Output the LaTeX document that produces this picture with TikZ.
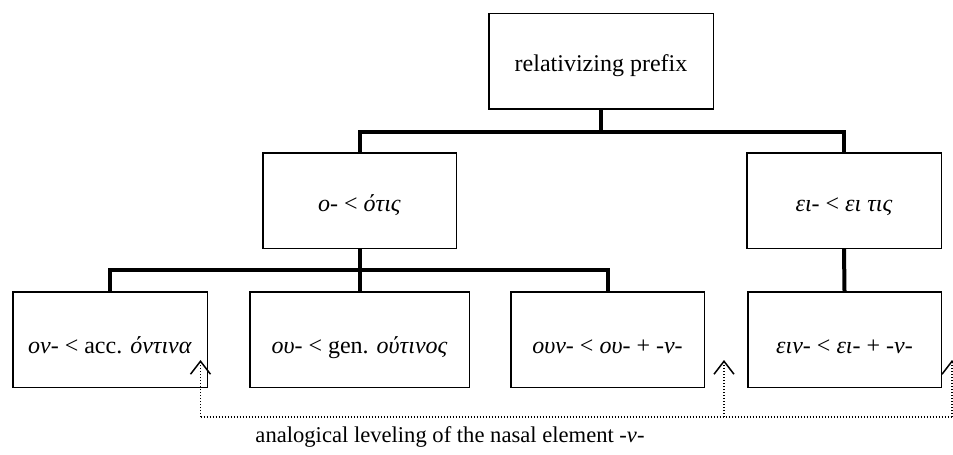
\documentclass[tikz,border=0pt]{standalone}
\usepackage{fontspec}
\setmainfont{Liberation Serif}
\usetikzlibrary{arrows.meta}
\begin{document}
\begin{tikzpicture}[x=0.5pt,y=-0.5pt,
  box/.style={draw,line width=0.75pt,minimum height=47.75pt,inner sep=0pt,text depth=0pt,text height=10.5pt,font=\fontsize{12}{14}\selectfont},
  lowbox/.style={box,text height=13.5pt},
  conn/.style={line width=2pt},
  level/.style={line width=0.6pt,dash pattern=on 0.6pt off 0.9pt},
  tipped/.style={-{Straight Barb[length=6.5pt,width=10pt,line width=0.75pt]}}]
\useasboundingbox (0,0) rectangle (953,455);
% nodes
\node[box,minimum width=112.25pt] (top) at (601,61) {relativizing prefix};
\node[box,minimum width=96.75pt] (o) at (359.5,200.5) {\textit{ο-} < \textit{ότις}};
\node[box,minimum width=97.25pt] (ei) at (844,200.5) {\textit{ει-} < \textit{ει τις}};
\node[lowbox,minimum width=97.25pt] (b1) at (110,339.5) {\textit{ον-} < acc. \textit{όντινα}};
\node[lowbox,minimum width=109.75pt] (b2) at (359.5,339.5) {\textit{ου-} < gen. \textit{ούτινος}};
\node[lowbox,minimum width=96.75pt] (b3) at (607.5,339.5) {\textit{ουν-} < \textit{ου-} + \textit{-ν-}};
\node[lowbox,minimum width=96.75pt] (b4) at (844.5,339.5) {\textit{ειν-} < \textit{ει-} + \textit{-ν-}};
% tree connectors
\coordinate (bar1) at (0,132);
\coordinate (bar2) at (0,270);
\draw[conn] (top.south) -- (top.south |- bar1);
\draw[conn] (o.north) |- (ei.north |- bar1) -- (ei.north);
\draw[conn] (o.south) -- (b2.north);
\draw[conn] (b1.north) |- (b3.north |- bar2) -- (b3.north);
\draw[conn] (ei.south) -- (b4.north);
% analogical leveling
\coordinate (a1) at (200.5,360);
\coordinate (a2) at (724,360);
\coordinate (a3) at (952,360);
\coordinate (base) at (0,417);
\draw[level] (a1 |- base) -- (a3 |- base);
\draw[level,tipped] (a1 |- base) -- (a1);
\draw[level,tipped] (a2 |- base) -- (a2);
\draw[level,tipped] (a3 |- base) -- (a3);
\node[font=\fontsize{11.3}{13}\selectfont] (lbl) at (450,437) {analogical leveling of the nasal element \textit{-ν-}};
\end{tikzpicture}
\end{document}
